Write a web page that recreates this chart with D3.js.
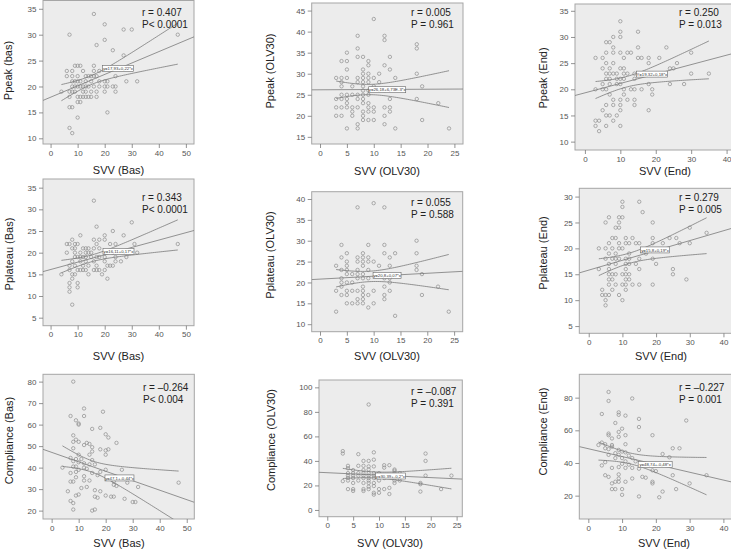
<!DOCTYPE html>
<html><head><meta charset="utf-8">
<script src="https://cdn.jsdelivr.net/npm/d3@7"></script>
<style>body{margin:0;background:#fff}svg{display:block}</style>
</head><body><svg id="c" width="731" height="550"></svg>
<script>
// ---------- DATA ----------
const ppeakBas = [[16,34],[20,32],[27,31],[30,31],[7,30],[47,30],[20,29],[17,28],[23,27],[27,26],
[9,24],[10,24],[11,24],[16,24],[6,23],[8,23],[12,23],[16,23],[18,23],
[6,22],[8,22],[10,22],[13,22],[14,22],[15,22],[16,22],[17,22],[24,22],
[8,21],[9,21],[10,21],[11,21],[13,21],[15,21],[18,21],[20,21],[21,21],[28,21],[32,21],
[8,20],[9,20],[10,20],[11,20],[12,20],[13,20],[14,20],[16,20],[18,20],[20,20],[21,20],[23,20],[24,20],
[4,19],[7,19],[8,19],[9,19],[12,19],[13,19],[15,19],[17,19],[20,19],[24,19],
[7,18],[10,18],[11,18],[12,18],[13,18],[14,18],[15,18],[17,18],
[10,17],[11,17],[7,16],[8,16],[21,15],[10,14],[7,12],[8,11]];
const ppeakOLV30 = [[10,43],[7,39],[12,39],[12,38],[18,37],[18,36],[7,36],[5,35],[7,34],[8,34],[13,34],[4,33],[5,33],[9,33],[9,32],[12,32],[5,31],[8,31],[13,31],
[8,30],[9,30],[11,30],[18,30],[3,29],[4,29],[5,29],[7,29],[8,29],[9,29],[10,29],[14,29],
[4,28],[7,28],[8,28],[9,28],[11,28],[4,27],[6,27],[8,27],[10,27],[19,27],[8,26],[9,26],[12,26],
[4,25],[5,25],[6,25],[7,25],[8,25],[9,25],[3,24],[4,24],[5,24],[7,24],[8,24],[13,24],[18,24],
[5,23],[8,23],[9,23],[22,23],[3,22],[4,22],[5,22],[6,22],[7,22],[9,22],[10,22],[12,22],[13,22],
[6,21],[8,21],[9,21],[10,21],[13,21],[3,20],[4,20],[6,20],[8,20],[12,20],
[8,19],[9,19],[10,19],[19,19],[7,18],[12,18],[5,17],[7,17],[14,17],[24,17]];
const ppeakEnd = [[10,33],[10,31],[15,31],[10,30],[8,30],[6,29],[7,29],[8,28],[15,28],[23,28],
[6,27],[8,27],[10,27],[12,27],[13,27],[30,27],[3,26],[5,26],[11,26],[15,26],[16,26],[18,26],[21,26],
[6,25],[8,25],[18,25],[26,25],[5,24],[7,24],[10,24],[11,24],[24,24],[25,24],
[6,23],[7,23],[8,23],[9,23],[11,23],[12,23],[14,23],[30,23],[35,23],
[6,22],[7,22],[9,22],[10,22],[11,22],[14,22],[5,21],[7,21],[9,21],[10,21],[18,21],[24,21],[28,21],
[3,20],[5,20],[6,20],[11,20],[13,20],[14,20],[16,20],[19,20],[7,19],[11,19],[19,19],
[8,18],[10,18],[12,18],[14,18],[6,17],[8,17],[10,17],[14,17],[5,16],[10,16],[18,16],
[6,15],[7,15],[9,15],[3,14],[4,14],[8,14],[3,13],[6,13],[10,13],[4,12]];
const pplateauBas = [[16,32],[30,27],[17,26],[23,25],[11,24],[20,24],[27,24],[8,23],[16,23],[18,23],[20,23],
[6,22],[7,22],[9,22],[10,22],[17,22],[22,22],[24,22],[31,22],[47,22],
[8,21],[9,21],[12,21],[13,21],[14,21],[16,21],[18,21],
[6,20],[9,20],[11,20],[13,20],[14,20],[15,20],[23,20],[32,20],
[9,19],[10,19],[11,19],[12,19],[13,19],[15,19],[17,19],[18,19],[20,19],[24,19],[28,19],
[8,18],[11,18],[13,18],[16,18],[20,18],[24,18],[26,18],
[7,17],[9,17],[12,17],[14,17],[17,17],[21,17],[22,17],[23,17],
[7,16],[10,16],[11,16],[12,16],[13,16],[16,16],[17,16],[18,16],[20,16],
[4,15],[8,15],[9,15],[14,15],[19,15],[8,14],[21,14],[7,13],[10,13],[7,12],[10,12],[7,11],[8,8]];
const pplateauOLV30 = [[7,38],[10,39],[12,38],[18,30],[4,29],[9,29],[12,29],
[5,27],[8,27],[12,27],[14,27],[18,27],[4,26],[7,26],[8,26],[9,26],[13,26],
[5,25],[7,25],[8,25],[9,25],[10,25],[3,24],[5,24],[8,24],[11,24],[13,24],[18,24],
[4,23],[5,23],[7,23],[9,23],[18,23],[5,22],[6,22],[7,22],[8,22],[19,22],
[4,21],[7,21],[8,21],[9,21],[12,21],[13,21],[4,20],[5,20],[6,20],[13,20],
[4,19],[8,19],[12,19],[22,19],[3,18],[5,18],[6,18],[7,18],[8,18],[10,18],[13,18],
[4,17],[5,17],[8,17],[9,17],[12,17],[19,17],[7,16],[8,16],[12,16],
[5,15],[6,15],[7,15],[8,15],[10,15],[9,14],[3,13],[24,13],[14,12]];
const pplateauEnd = [[10,29],[15,29],[10,28],[16,27],[6,26],[9,26],[10,26],[5,25],[9,25],[19,25],[8,24],[9,24],[30,24],[35,23],
[7,22],[8,22],[11,22],[13,22],[19,22],[24,22],[26,22],
[6,21],[9,21],[11,21],[12,21],[14,21],[15,21],[19,21],[22,21],[27,21],[30,21],
[3,20],[5,20],[7,20],[9,20],[10,20],[6,19],[8,19],[12,19],[17,19],
[5,18],[7,18],[8,18],[9,18],[11,18],[12,18],[15,18],[19,18],
[6,17],[8,17],[11,17],[12,17],[14,17],[20,17],[3,16],[6,16],[11,16],[15,16],[25,16],
[6,15],[7,15],[8,15],[10,15],[11,15],[12,15],[25,15],[6,14],[7,14],[11,14],[12,14],[29,14],
[6,13],[8,13],[10,13],[11,13],[13,13],[15,13],[19,13],[4,12],[7,12],[11,12],
[4,11],[5,11],[6,11],[9,11],[5,10],[10,10],[5,9]];
const complianceBas = [[8,80],[12,67.5],[19,66],[7,64],[12,64],[9,62],[10,60.5],[10,60],[18,58.5],[15,58],
[8,55],[20,55.5],[21,54],[9,53],[10,52],[8,52],[13,51.5],[14,51],[24,51.5],[12,50.5],
[15,49.5],[8,49],[18,48.5],[21,48.5],[20,48],[15,47.5],
[10,46],[14,46],[20,46],[7,44.5],[9,44],[11,44],[15,43.5],[8,43],[10,42.5],[12,42],[14,41.5],[16,41.5],
[9,40.5],[12,40],[13,39.5],[20,39],[26,39],[10,39],[18,38],[9,38],[7,37.5],[15,37.5],[17,36.5],
[12,36],[9,35.5],[23,35.5],[14,34],[12,34],[7,33.5],[8,33.5],[23,33.5],[28,33],
[23,32],[24,31.5],[13,31],[11,30.5],[16,29.5],[6,29],[18,29],
[10,27.5],[9,27],[16,26.5],[17,26],[22,26.5],[23,26.5],[27,25.5],[30,24],[31,24],[20,27],
[7,24.5],[8,23.5],[15,20],[16,20.5],[8,20.5],[8,40.5],[4,40],[32,31],[47,33]];
const complianceOLV30 = [[8,86],[3,48],[3,46],[6,45.5],[9,47],[19,46],[19,40],[9,41],[8,40],[7,40],
[4,36],[6,36],[7,36],[8,35.5],[9,35.5],[11,36.5],[12,36.5],[11,34.5],
[4,34],[5,32.5],[7,32.5],[8,33],[13,33],[13,32],
[4,30],[5,30],[6,30],[7,30],[8,30],[9,30],[10,30],[13,30],[14,30],
[4,28],[5,28],[6,28],[7,28],[8,28],[9,28],[19,28],[24,28],
[4,26],[5,26],[7,26],[8,26],[9,26],[11,26],
[3,23.5],[4,24],[6,24],[8,24],[10,24],[13,24],[14,24],
[5,22],[7,22],[8,22],[9,22],[13,22],[18,22],[18,21],[8,19],[9,19.5],
[4,17],[5,17],[7,17],[8,17],[10,17],[11,17],[12,18],[22,17],
[5,15.5],[7,15.5],[9,14],[10,14],[12,13],[18,15],[9,12.5]];
const complianceEnd = [[6,83.5],[6,78],[13,79.5],[4,70],[9,71],[9,69.5],[11,69],[15,67],[29,66],
[8,64.5],[15,62],[10,61],[9,59],[6,58],[6,57],[11,57],[9,56],[19,57],
[7,55],[4,52.5],[5,51.5],[7,51],[3,51],[7,50],[11,51.5],
[5,49],[6,48.5],[25,49],[27,49],[15,48],[9,48],[10,47],[11,46.5],[8,46],[22,45.5],
[6,45],[9,45],[12,44.5],[13,43],[24,43.5],[8,43],[10,43],
[5,40.5],[11,41],[14,41],[10,39.5],[12,39],[4,38.5],[9,37.5],[11,37],[15,36.5],[7,37],[13,37],
[19,35.5],[20,35],[5,32.5],[9,33],[25,32.5],[16,31.5],[17,31],[6,31.5],[13,30.5],[9,30.5],
[9,28.5],[11,28.5],[19,28.5],[19,27.5],[30,27.5],[8,28.5],[7,27.5],
[7,24],[8,24],[10,24],[22,22.5],[26,24],[10,20.5],[15,19.5],[21,19],[35,32.5]];

const xTitles = ["SVV (Bas)","SVV (OLV30)","SVV (End)","SVV (Bas)","SVV (OLV30)","SVV (End)","SVV (Bas)","SVV (OLV30)","SVV (End)"];
const yTitles = ["Ppeak (bas)","Ppeak (OLV30)","Ppeak (End)","Pplateau (Bas)","Pplateau (OLV30)","Pplateau (End)","Compliance (Bas)","Compliance (OLV30)","Compliance (End)"];
const rLabels = ["r = 0.407","r = 0.005","r = 0.250","r = 0.343","r = 0.055","r = 0.279","r = \u20130.264","r = \u20130.087","r = \u20130.227"];
const pLabels = ["P< 0.0001","P = 0.961","P = 0.013","P< 0.0001","P = 0.588","P = 0.005","P< 0.004","P = 0.391","P = 0.001"];
const intercepts = [17.93,26.18,19.32,16.11,20.8,15.8,47.1,30.39,48.74];
const slopes = [0.22,0.00673,0.18,0.17,0.07,0.19,-0.44,-0.2,-0.48];
const eqLabels = ["y=17,93+0,22*x","y=26,18+6,73E-3*x","Y=19,32+0,18*x","y=16,11+0,17*x","y=20,8+0,07*x","y=15,8+0,19*x","y=47,1+-0,44*x","y=30,39+-0,2*x","y=48,74+-0,48*x"];
const xTicks = [[0,10,20,30,40,50],[0,5,10,15,20,25],[0,10,20,30,40],[0,10,20,30,40,50],[0,5,10,15,20,25],[0,10,20,30,40],[0,10,20,30,40,50],[0,5,10,15,20,25],[0,10,20,30,40]];
const yTicks = [[10,15,20,25,30,35],[15,20,25,30,35,40,45],[10,15,20,25,30,35],[5,10,15,20,25,30,35],[10,15,20,25,30,35,40],[5,10,15,20,25,30],[20,30,40,50,60,70,80],[0,20,40,60,80,100],[20,40,60,80]];
const datasets = [ppeakBas,ppeakOLV30,ppeakEnd,pplateauBas,pplateauOLV30,pplateauEnd,complianceBas,complianceOLV30,complianceEnd];

// ---------- LAYOUT ----------
const layout = [
 {l:43,r:194,t:0.5,b:144, xd:[-2.8,53], yd:[8.9,36.6], xt:[118.5,174], yt:[12,70.5], st:[142,16], eq:[24.9,23.5], ew:31},
 {l:311.7,r:463,t:3,b:144, xd:[-1.55,26.6], yd:[13.3,46.8], xt:[387,175], yt:[273.5,71], st:[411,16], eq:[12.5,26.2], ew:37},
 {l:575,r:745,t:4,b:150, xd:[-2.8,45.2], yd:[8.4,36.3], xt:[665,175], yt:[547,78], st:[679,16], eq:[18.9,22.9], ew:31},
 {l:43,r:194,t:179,b:325.7, xd:[-2.8,53], yd:[3.15,37], xt:[118.5,360], yt:[12.5,254], st:[142,201], eq:[25.1,20.3], ew:31},
 {l:311.7,r:462.7,t:191.7,b:331.7, xd:[-1.55,26.6], yd:[8.2,41.75], xt:[387,360], yt:[274,255], st:[411,206], eq:[12.5,21.7], ew:28},
 {l:579.3,r:745,t:188.3,b:333.3, xd:[-2.8,46.4], yd:[3.6,31.6], xt:[661,360], yt:[547,253], st:[679,201], eq:[19.7,19.7], ew:29},
 {l:43,r:194.3,t:374.3,b:519, xd:[-3.2,52.8], yd:[16.1,83.4], xt:[119,546.5], yt:[12.5,440.5], st:[143,391], eq:[25.1,35.2], ew:29},
 {l:319,r:462.3,t:380,b:516.7, xd:[-1.6,26.1], yd:[-5.5,106], xt:[390,546.5], yt:[274.5,440], st:[411,395], eq:[12.2,27.7], ew:30},
 {l:579.3,r:745,t:374.3,b:519, xd:[-2.67,46.4], yd:[5.7,94.3], xt:[664,546.5], yt:[547,431.5], st:[679,391], eq:[19.8,39], ew:34}
];

const FONT = "'Liberation Sans', Arial, Helvetica, sans-serif";
const svg = d3.select("#c");
const defs = svg.append("defs");

datasets.forEach((data, i) => {
  const L = layout[i];
  const x = d3.scaleLinear().domain(L.xd).range([L.l, L.r]);
  const y = d3.scaleLinear().domain(L.yd).range([L.b, L.t]);
  const g = svg.append("g");
  const cid = "clip" + i;
  defs.append("clipPath").attr("id", cid).append("rect")
    .attr("x", L.l).attr("y", L.t).attr("width", L.r - L.l).attr("height", L.b - L.t);

  g.append("rect").attr("x", L.l).attr("y", L.t).attr("width", L.r - L.l).attr("height", L.b - L.t)
    .attr("fill", "#ececec").attr("stroke", "#a6a6a6").attr("stroke-width", 1);

  // axes
  const ax = g.append("g").attr("transform", `translate(0,${L.b})`)
    .call(d3.axisBottom(x).tickValues(xTicks[i]).tickSize(4).tickPadding(2).tickFormat(d3.format("d")));
  const ay = g.append("g").attr("transform", `translate(${L.l},0)`)
    .call(d3.axisLeft(y).tickValues(yTicks[i]).tickSize(4).tickPadding(2.5).tickFormat(d3.format("d")));
  [ax, ay].forEach(a => {
    a.select(".domain").remove();
    a.selectAll("line").attr("stroke", "#777").attr("stroke-width", 0.8);
    a.selectAll("text").attr("fill", "#555").style("font-family", FONT).style("font-size", "8px");
  });

  const plot = g.append("g").attr("clip-path", `url(#${cid})`);

  // points
  plot.selectAll("circle").data(data).join("circle")
    .attr("cx", d => x(d[0])).attr("cy", d => y(d[1])).attr("r", 1.7)
    .attr("fill", "none").attr("stroke", "#8c8c8c").attr("stroke-width", 0.7);

  // regression line and 95% confidence band of the mean
  const a = intercepts[i], b = slopes[i];
  const n = data.length;
  const xm = d3.mean(data, d => d[0]);
  const sxx = d3.sum(data, d => (d[0] - xm) ** 2);
  const s = Math.sqrt(d3.sum(data, d => (d[1] - (a + b * d[0])) ** 2) / (n - 2));
  const tq = 1.985;
  const [xmin, xmax] = d3.extent(data, d => d[0]);
  const xs = d3.range(0, 61).map(k => xmin + (xmax - xmin) * k / 60);
  const hw = v => tq * s * Math.sqrt(1 / n + (v - xm) ** 2 / sxx);
  const ln = d3.line().x(d => x(d[0])).y(d => y(d[1]));
  const lineStyle = sel => sel.attr("fill", "none").attr("stroke", "#7a7a7a").attr("stroke-width", 0.8);
  plot.append("path").attr("d", ln([[L.xd[0], a + b * L.xd[0]], [L.xd[1], a + b * L.xd[1]]])).call(lineStyle);
  plot.append("path").attr("d", ln(xs.map(v => [v, a + b * v + hw(v)]))).call(lineStyle);
  plot.append("path").attr("d", ln(xs.map(v => [v, a + b * v - hw(v)]))).call(lineStyle);

  // equation box
  const ex = x(L.eq[0]), ey = y(L.eq[1]);
  g.append("rect").attr("x", ex - L.ew / 2).attr("y", ey - 3).attr("width", L.ew).attr("height", 6)
    .attr("fill", "#fff").attr("stroke", "#666").attr("stroke-width", 0.6);
  g.append("text").attr("x", ex).attr("y", ey + 1.6).attr("text-anchor", "middle")
    .style("font-family", FONT).style("font-size", "4.3px").attr("fill", "#333").text(eqLabels[i]);

  // stats
  g.append("text").attr("x", L.st[0]).attr("y", L.st[1]).style("font-family", FONT).style("font-size", "10px")
    .attr("fill", "#222").text(rLabels[i]);
  g.append("text").attr("x", L.st[0]).attr("y", L.st[1] + 11.5).style("font-family", FONT).style("font-size", "10px")
    .attr("fill", "#222").text(pLabels[i]);

  // titles
  g.append("text").attr("x", L.xt[0]).attr("y", L.xt[1]).attr("text-anchor", "middle")
    .style("font-family", FONT).style("font-size", "11px").attr("fill", "#222").text(xTitles[i]);
  g.append("text").attr("transform", `translate(${L.yt[0]},${L.yt[1]}) rotate(-90)`).attr("text-anchor", "middle")
    .style("font-family", FONT).style("font-size", "11px").attr("fill", "#222").text(yTitles[i]);
});
</script>
</body></html>
